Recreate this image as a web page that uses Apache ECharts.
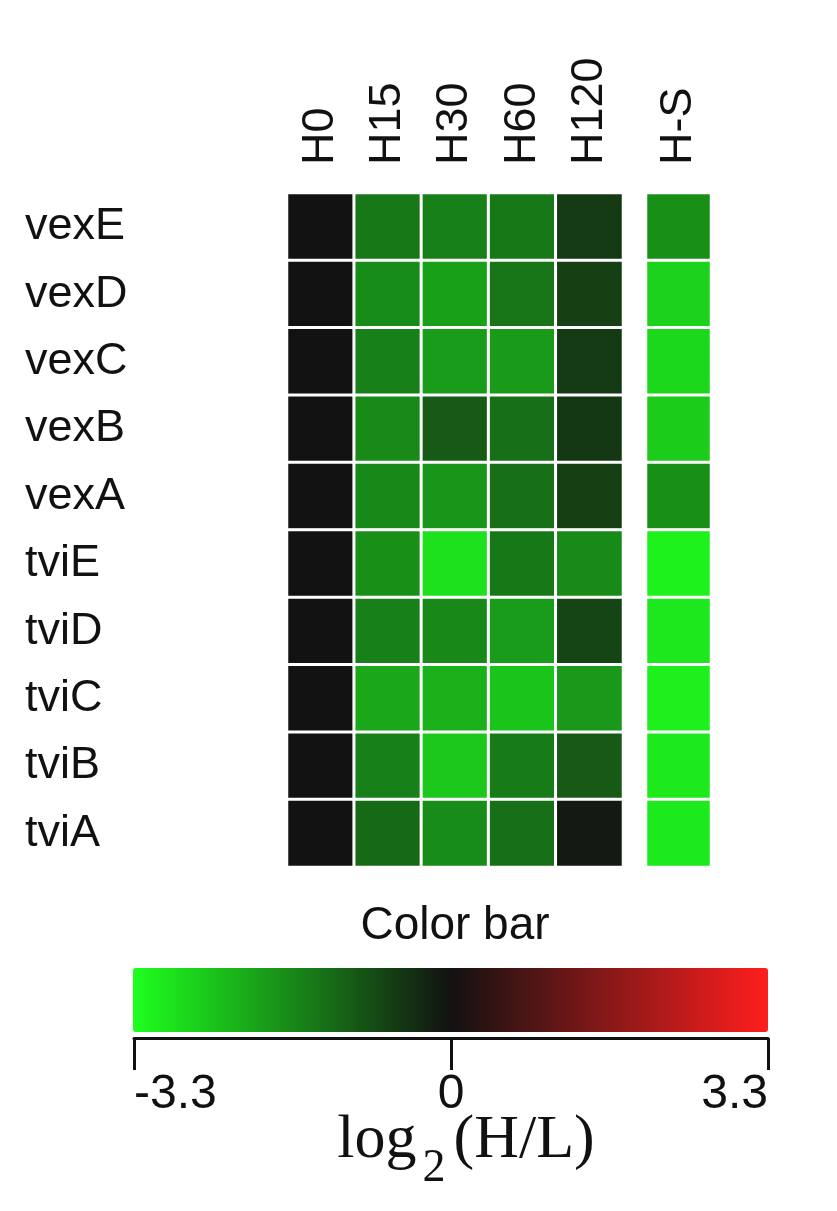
<!DOCTYPE html>
<html>
<head>
<meta charset="utf-8">
<script src="https://cdn.jsdelivr.net/npm/echarts@6/dist/echarts.min.js"></script>
<style>
  html, body { margin: 0; padding: 0; background: #fff; }
  #chart { width: 837px; height: 1211px; }
</style>
</head>
<body>
<div id="chart"></div>
<script>
// genes, top to bottom
const genes = ['vexE', 'vexD', 'vexC', 'vexB', 'vexA', 'tviE', 'tviD', 'tviC', 'tviB', 'tviA'];
const timeCols = ['H0', 'H15', 'H30', 'H60', 'H120'];
const sideCols = ['H-S'];

// log2(H/L) per column, same order as genes
const h0   = [0, 0, 0, 0, 0, 0, 0, 0, 0, 0];
const h15  = [-1.42, -1.70, -1.53, -1.67, -1.64, -1.75, -1.53, -2.09, -1.53, -1.23];
const h30  = [-1.53, -1.98, -1.92, -1.00, -1.84, -2.88, -1.64, -2.20, -2.53, -1.70];
const h60  = [-1.42, -1.38, -1.89, -1.31, -1.31, -1.42, -1.92, -2.48, -1.48, -1.31];
const h120 = [-0.56, -0.64, -0.56, -0.53, -0.64, -1.67, -0.71, -1.87, -1.00, -0.11];
const hS   = [-1.75, -2.67, -2.76, -2.59, -1.75, -3.12, -2.98, -3.09, -3.01, -3.01];

const barMin = -3.3;
const barMax = 3.3;

const timeData = [];
[h0, h15, h30, h60, h120].forEach((col, ci) => {
  col.forEach((v, ri) => timeData.push([ci, ri, v]));
});
const sideData = hS.map((v, ri) => [0, ri, v]);

const FONT = 'Liberation Sans';
const SERIF = 'Liberation Serif';
const chart = echarts.init(document.getElementById('chart'));

const cellStyle = {
  borderColor: '#ffffff',
  borderWidth: 3
};

const colLabel = {
  rotate: -90,
  margin: 28,
  fontFamily: FONT,
  fontSize: 45,
  color: '#111'
};

chart.setOption({
  backgroundColor: '#ffffff',
  animation: false,
  title: {
    text: 'Color bar',
    left: 450,
    top: 898,
    textAlign: 'center',
    textStyle: {
      fontFamily: FONT,
      fontSize: 46,
      fontWeight: 'normal',
      color: '#111'
    }
  },
  grid: [
    { left: 287, top: 193, width: 336, height: 674 },
    { left: 646, top: 193, width: 65, height: 674 },
    { left: 134, top: 1038, width: 634, height: 0 }
  ],
  xAxis: [
    {
      type: 'category',
      gridIndex: 0,
      position: 'top',
      data: timeCols,
      axisLine: { show: false },
      axisTick: { show: false },
      splitLine: { show: false },
      axisLabel: colLabel
    },
    {
      type: 'category',
      gridIndex: 1,
      position: 'top',
      data: sideCols,
      axisLine: { show: false },
      axisTick: { show: false },
      splitLine: { show: false },
      axisLabel: colLabel
    },
    {
      type: 'value',
      gridIndex: 2,
      min: barMin,
      max: barMax,
      interval: 3.3,
      axisLine: { show: true, lineStyle: { color: '#111', width: 3 } },
      axisTick: { show: true, length: 32, lineStyle: { color: '#111', width: 3 } },
      splitLine: { show: false },
      axisLabel: {
        margin: 33,
        fontFamily: FONT,
        fontSize: 48,
        color: '#111',
        alignMinLabel: 'left',
        alignMaxLabel: 'right'
      },
      name: '{a|log}{b|2}{a|(H/L)}',
      nameLocation: 'middle',
      nameGap: 72,
      nameMoveOverlap: false,
      nameTextStyle: {
        padding: [0, 0, 0, 30],
        rich: {
          a: { fontFamily: SERIF, fontSize: 62, color: '#111', verticalAlign: 'bottom', padding: [0, 0, 20, 0] },
          b: { fontFamily: SERIF, fontSize: 46, color: '#111', verticalAlign: 'bottom', padding: [0, 8, 0, 6] }
        }
      }
    }
  ],
  yAxis: [
    {
      type: 'category',
      gridIndex: 0,
      inverse: true,
      data: genes,
      axisLine: { show: false },
      axisTick: { show: false },
      splitLine: { show: false },
      axisLabel: {
        align: 'left',
        margin: 262,
        fontFamily: FONT,
        fontSize: 45,
        color: '#111'
      }
    },
    {
      type: 'category',
      gridIndex: 1,
      inverse: true,
      data: genes,
      axisLine: { show: false },
      axisTick: { show: false },
      axisLabel: { show: false }
    },
    {
      type: 'value',
      gridIndex: 2,
      show: false
    }
  ],
  visualMap: {
    type: 'continuous',
    seriesIndex: [0, 1],
    min: barMin,
    max: barMax,
    orient: 'horizontal',
    left: 118,
    top: 953,
    itemWidth: 64,
    itemHeight: 635,
    calculable: false,
    hoverLink: false,
    text: null,
    textStyle: { color: 'transparent' },
    inRange: {
      color: ['#1eff1e', '#121212', '#ff1e1e']
    }
  },
  series: [
    {
      type: 'heatmap',
      xAxisIndex: 0,
      yAxisIndex: 0,
      data: timeData,
      itemStyle: cellStyle
    },
    {
      type: 'heatmap',
      xAxisIndex: 1,
      yAxisIndex: 1,
      data: sideData,
      itemStyle: cellStyle
    }
  ]
});
</script>
</body>
</html>
